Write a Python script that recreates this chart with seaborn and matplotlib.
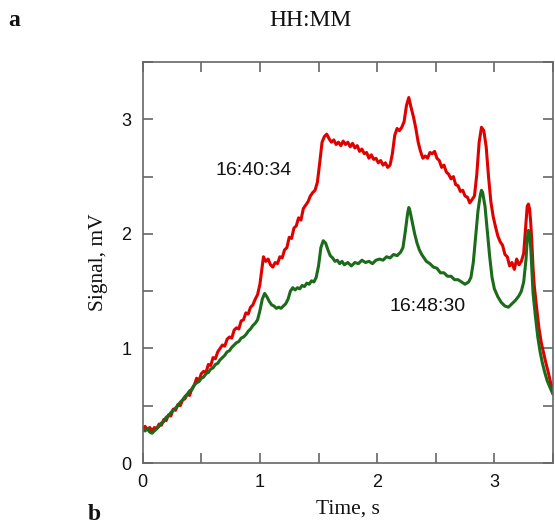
import matplotlib
matplotlib.use("Agg")
import matplotlib.pyplot as plt
import seaborn as sns

# ---- data ----
red_pts = [
    (0.00, 0.30), (0.02, 0.32), (0.04, 0.29), (0.06, 0.31), (0.08, 0.28), (0.10, 0.31),
    (0.12, 0.30), (0.14, 0.34), (0.16, 0.33), (0.18, 0.38), (0.20, 0.37), (0.22, 0.42),
    (0.24, 0.41), (0.26, 0.47), (0.28, 0.46), (0.30, 0.51), (0.32, 0.50), (0.34, 0.55),
    (0.36, 0.56), (0.38, 0.60), (0.40, 0.59), (0.42, 0.65), (0.44, 0.68), (0.46, 0.74),
    (0.48, 0.72), (0.50, 0.78), (0.52, 0.80), (0.54, 0.79), (0.56, 0.86), (0.58, 0.85),
    (0.60, 0.92), (0.62, 0.91), (0.64, 0.97), (0.66, 1.00), (0.68, 1.03), (0.70, 1.02),
    (0.72, 1.08), (0.74, 1.10), (0.76, 1.09), (0.78, 1.16), (0.80, 1.18), (0.82, 1.17),
    (0.84, 1.24), (0.86, 1.25), (0.88, 1.31), (0.90, 1.30), (0.92, 1.36), (0.94, 1.38),
    (0.96, 1.43), (0.98, 1.47), (1.00, 1.56), (1.02, 1.72), (1.03, 1.80), (1.05, 1.76),
    (1.07, 1.78), (1.09, 1.73), (1.11, 1.71), (1.13, 1.75), (1.15, 1.74), (1.17, 1.80),
    (1.19, 1.79), (1.21, 1.86), (1.23, 1.88), (1.25, 1.97), (1.27, 1.96), (1.29, 2.05),
    (1.31, 2.07), (1.33, 2.14), (1.35, 2.12), (1.37, 2.22), (1.39, 2.25), (1.41, 2.28),
    (1.43, 2.33), (1.45, 2.36), (1.47, 2.38), (1.49, 2.45), (1.51, 2.62), (1.53, 2.80),
    (1.55, 2.85), (1.57, 2.87), (1.59, 2.83), (1.61, 2.80), (1.63, 2.82), (1.65, 2.78),
    (1.67, 2.80), (1.69, 2.77), (1.71, 2.81), (1.73, 2.78), (1.75, 2.80), (1.77, 2.76),
    (1.79, 2.79), (1.81, 2.75), (1.83, 2.77), (1.85, 2.72), (1.87, 2.74), (1.89, 2.70),
    (1.91, 2.71), (1.93, 2.66), (1.95, 2.69), (1.97, 2.65), (1.99, 2.66), (2.01, 2.62),
    (2.03, 2.64), (2.05, 2.60), (2.07, 2.62), (2.09, 2.58), (2.11, 2.60), (2.13, 2.70),
    (2.15, 2.86), (2.17, 2.92), (2.19, 2.90), (2.21, 2.93), (2.23, 2.98), (2.25, 3.12),
    (2.27, 3.19), (2.29, 3.10), (2.31, 3.02), (2.33, 2.92), (2.35, 2.80), (2.37, 2.72),
    (2.39, 2.66), (2.41, 2.68), (2.43, 2.66), (2.45, 2.71), (2.47, 2.70), (2.49, 2.72),
    (2.51, 2.66), (2.53, 2.64), (2.55, 2.58), (2.57, 2.60), (2.59, 2.54), (2.61, 2.52),
    (2.63, 2.48), (2.65, 2.50), (2.67, 2.43), (2.69, 2.42), (2.71, 2.37), (2.73, 2.38),
    (2.75, 2.33), (2.77, 2.32), (2.79, 2.27), (2.81, 2.30), (2.83, 2.33), (2.85, 2.52),
    (2.87, 2.80), (2.89, 2.93), (2.91, 2.90), (2.93, 2.76), (2.95, 2.50), (2.97, 2.28),
    (2.99, 2.15), (3.01, 2.06), (3.03, 1.98), (3.05, 1.93), (3.07, 1.90), (3.09, 1.82),
    (3.11, 1.80), (3.13, 1.72), (3.15, 1.75), (3.17, 1.69), (3.19, 1.78), (3.21, 1.73),
    (3.23, 1.76), (3.25, 1.83), (3.27, 2.10), (3.28, 2.24), (3.29, 2.26), (3.30, 2.22),
    (3.31, 2.10), (3.32, 1.92), (3.33, 1.70), (3.34, 1.55), (3.36, 1.36), (3.38, 1.18),
    (3.40, 1.05), (3.42, 0.96), (3.44, 0.87), (3.46, 0.79), (3.48, 0.70), (3.50, 0.64),
]
green_pts = [
    (0.00, 0.29), (0.02, 0.28), (0.04, 0.30), (0.06, 0.27), (0.08, 0.26), (0.10, 0.28),
    (0.12, 0.30), (0.14, 0.32), (0.16, 0.35), (0.18, 0.36), (0.20, 0.40), (0.22, 0.41),
    (0.24, 0.44), (0.26, 0.46), (0.28, 0.48), (0.30, 0.50), (0.32, 0.53), (0.34, 0.55),
    (0.36, 0.58), (0.38, 0.60), (0.40, 0.63), (0.42, 0.64), (0.44, 0.68), (0.46, 0.70),
    (0.48, 0.71), (0.50, 0.74), (0.52, 0.75), (0.54, 0.78), (0.56, 0.79), (0.58, 0.82),
    (0.60, 0.83), (0.62, 0.86), (0.64, 0.87), (0.66, 0.90), (0.68, 0.92), (0.70, 0.94),
    (0.72, 0.97), (0.74, 0.98), (0.76, 1.01), (0.78, 1.03), (0.80, 1.05), (0.82, 1.06),
    (0.84, 1.09), (0.86, 1.10), (0.88, 1.12), (0.90, 1.15), (0.92, 1.17), (0.94, 1.20),
    (0.96, 1.22), (0.98, 1.25), (1.00, 1.33), (1.02, 1.43), (1.04, 1.48), (1.06, 1.45),
    (1.08, 1.41), (1.10, 1.38), (1.12, 1.37), (1.14, 1.35), (1.16, 1.36), (1.18, 1.35),
    (1.20, 1.37), (1.22, 1.39), (1.24, 1.43), (1.26, 1.50), (1.28, 1.53), (1.30, 1.51),
    (1.32, 1.53), (1.34, 1.52), (1.36, 1.55), (1.38, 1.54), (1.40, 1.57), (1.42, 1.56),
    (1.44, 1.59), (1.46, 1.58), (1.48, 1.62), (1.50, 1.72), (1.52, 1.88), (1.54, 1.94),
    (1.56, 1.92), (1.58, 1.86), (1.60, 1.81), (1.62, 1.79), (1.64, 1.76), (1.66, 1.77),
    (1.68, 1.74), (1.70, 1.76), (1.72, 1.73), (1.75, 1.75), (1.78, 1.72), (1.81, 1.75),
    (1.84, 1.74), (1.87, 1.77), (1.90, 1.75), (1.93, 1.76), (1.96, 1.74), (1.99, 1.77),
    (2.02, 1.78), (2.05, 1.77), (2.08, 1.80), (2.11, 1.79), (2.14, 1.82), (2.17, 1.81),
    (2.20, 1.84), (2.22, 1.88), (2.24, 2.02), (2.26, 2.18), (2.27, 2.23), (2.28, 2.20),
    (2.30, 2.10), (2.32, 2.00), (2.34, 1.92), (2.36, 1.86), (2.38, 1.82), (2.40, 1.79),
    (2.42, 1.76), (2.45, 1.74), (2.48, 1.71), (2.51, 1.70), (2.54, 1.66), (2.57, 1.66),
    (2.60, 1.63), (2.63, 1.63), (2.66, 1.60), (2.69, 1.60), (2.72, 1.58), (2.75, 1.56),
    (2.78, 1.58), (2.80, 1.62), (2.82, 1.75), (2.84, 1.98), (2.86, 2.20), (2.88, 2.34),
    (2.89, 2.38), (2.90, 2.36), (2.92, 2.24), (2.94, 2.02), (2.96, 1.80), (2.98, 1.62),
    (3.00, 1.52), (3.03, 1.45), (3.06, 1.40), (3.09, 1.37), (3.12, 1.36), (3.15, 1.39),
    (3.18, 1.42), (3.21, 1.46), (3.23, 1.50), (3.25, 1.58), (3.27, 1.78), (3.28, 1.95),
    (3.29, 2.03), (3.30, 2.00), (3.31, 1.88), (3.32, 1.68), (3.33, 1.48), (3.35, 1.28),
    (3.37, 1.10), (3.39, 0.97), (3.41, 0.87), (3.43, 0.79), (3.45, 0.72), (3.47, 0.67),
    (3.50, 0.60),
]
t_red = [p[0] for p in red_pts]
sig_red = [p[1] for p in red_pts]
t_green = [p[0] for p in green_pts]
sig_green = [p[1] for p in green_pts]

label_red = "16:40:34"
label_green = "16:48:30"
red_color = "#e00000"
green_color = "#1b6b1b"

sns.set_style("ticks")
plt.rcParams['font.family'] = ['Liberation Sans', 'DejaVu Sans']

fig = plt.figure(figsize=(5.55, 5.27), dpi=100)
ax = fig.add_axes([142.7 / 555, 1 - 463 / 527, (553 - 142.7) / 555, (463 - 62) / 527])

sns.lineplot(x=t_red, y=sig_red, color=red_color, lw=2.2, ax=ax, estimator=None, sort=False)
sns.lineplot(x=t_green, y=sig_green, color=green_color, lw=2.2, ax=ax, estimator=None, sort=False)

ax.set_xlim(0, 3.5)
ax.set_ylim(0, 3.5)
ax.set_xticks([0, 1, 2, 3])
ax.set_yticks([0, 1, 2, 3])
ax.set_xticks([0.5, 1.5, 2.5, 3.5], minor=True)
ax.set_yticks([0.5, 1.5, 2.5, 3.5], minor=True)

spine_c = "#666666"
for s in ax.spines.values():
    s.set_visible(True)
    s.set_color(spine_c)
    s.set_linewidth(1.2)
ax.tick_params(which="both", direction="in", top=True, right=True, length=7,
               width=1.2, color=spine_c, labelsize=13, pad=8, labelcolor="#111111")

serif = ['Liberation Serif', 'DejaVu Serif']
ax.set_xlabel("Time, s", family=serif, fontsize=15.5, labelpad=6, color="#111111")
ax.set_ylabel("Signal, mV", family=serif, fontsize=15.5, labelpad=10, color="#111111")

ax.text(0.62, 2.55, label_red, fontsize=14, ha="left", va="center", color="#111111")
ax.text(2.105, 1.37, label_green, fontsize=14, ha="left", va="center", color="#111111")

fig.text(310 / 555, 1 - 20 / 527, "HH:MM", family=serif, fontsize=17, ha="center",
         va="center", color="#111111")
fig.text(8 / 555, 1 - 20 / 527, "a", family=serif, fontsize=17, fontweight="bold",
         ha="left", va="center", color="#111111")
fig.text(88 / 555, 1 - 514 / 527, "b", family=serif, fontsize=17, fontweight="bold",
         ha="left", va="center", color="#111111")

fig.savefig("out.png", dpi=100)
